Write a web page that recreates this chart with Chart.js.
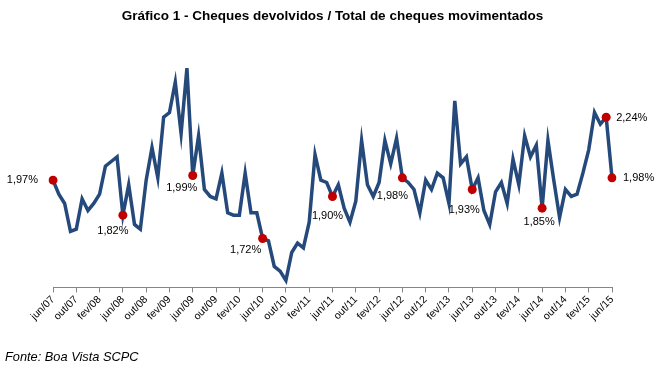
<!DOCTYPE html>
<html>
<head>
<meta charset="utf-8">
<script src="https://cdn.jsdelivr.net/npm/chart.js@4/dist/chart.umd.min.js"></script>
<style>
  body { margin: 0; background: #fff; }
  #wrap { position: relative; width: 661px; height: 369px; }
  #fonte { position: absolute; left: 5px; top: 349px; font: italic 12.8px "Liberation Sans", Arial, sans-serif; color: #000; }
</style>
</head>
<body>
<div id="wrap">
  <canvas id="myChart" width="661" height="369"></canvas>
  <div id="fonte">Fonte: Boa Vista SCPC</div>
</div>
<script>
'use strict'
// meses de jun/07 a jun/15
var mesesNomes = ['jan', 'fev', 'mar', 'abr', 'mai', 'jun', 'jul', 'ago', 'set', 'out', 'nov', 'dez'];
var meses = [];
for (let ano = 7; ano <= 15; ano++) {
    for (let m = 0; m < 12; m++) {
        if (ano == 7 && m < 5) continue;
        if (ano == 15 && m > 5) continue;
        meses.push(mesesNomes[m] + '/' + (ano < 10 ? '0' + ano : ano));
    }
}

// cheques devolvidos / total (%)
var valores = [
    1.97, 1.91, 1.87, 1.75, 1.76, 1.89, 1.84, 1.87, 1.91, 2.03, 2.05, 2.07,
    1.82, 1.95, 1.78, 1.76, 1.97, 2.11, 1.98, 2.24, 2.26, 2.39, 2.17, 2.45,
    1.99, 2.16, 1.93, 1.90, 1.89, 2.00, 1.83, 1.82, 1.82, 2.00, 1.83, 1.83,
    1.72, 1.71, 1.60, 1.58, 1.54, 1.66, 1.70, 1.68, 1.79, 2.08, 1.97, 1.96,
    1.90, 1.95, 1.85, 1.79, 1.88, 2.14, 1.95, 1.90, 1.96, 2.14, 2.04, 2.15,
    1.98, 1.96, 1.93, 1.83, 1.97, 1.93, 2.00, 1.98, 1.87, 2.31, 2.04, 2.07,
    1.93, 1.98, 1.84, 1.78, 1.92, 1.96, 1.87, 2.06, 1.95, 2.16, 2.07, 2.12,
    1.85, 2.14, 1.97, 1.81, 1.93, 1.90, 1.91, 2.00, 2.10, 2.26, 2.21, 2.24,
    1.98
];

// pontos destacados e seus rotulos
var destaques = [0, 12, 24, 36, 48, 60, 72, 84, 95, 96];
var rotulos = ['1,97%', '1,82%', '1,99%', '1,72%', '1,90%', '1,98%', '1,93%', '1,85%', '2,24%', '1,98%'];
// posicao do texto em relacao ao ponto [dx, dy, alinhamento]
var rotuloPos = [[-15, 0, 'right'], [-10, 16, 'center'], [-11, 12, 'center'], [-17, 12, 'center'], [-5, 19, 'center'],
    [-10, 18, 'center'], [-8, 20, 'center'], [-3, 14, 'center'], [10, 1, 'left'], [11, 0, 'left']];

var raios = valores.map(function (v, i) { return destaques.includes(i) ? 4.5 : 0; });

var rotulosPlugin = {
    id: 'rotulos',
    afterDatasetsDraw: function (chart) {
        var ctx = chart.ctx;
        var meta = chart.getDatasetMeta(0);
        ctx.save();
        ctx.font = '11px "Liberation Sans", Arial, sans-serif';
        ctx.fillStyle = '#000';
        ctx.textBaseline = 'middle';
        for (let i = 0; i < destaques.length; i++) {
            var pt = meta.data[destaques[i]];
            ctx.textAlign = rotuloPos[i][2];
            ctx.fillText(rotulos[i], pt.x + rotuloPos[i][0], pt.y + rotuloPos[i][1]);
        }
        ctx.restore();
    }
};

var ctx = document.getElementById('myChart').getContext('2d');

var chart = new Chart(ctx, {
    type: 'line',
    data: {
        labels: meses,
        datasets: [{
            data: valores,
            borderColor: '#24497a',
            borderWidth: 3.5,
            tension: 0,
            pointRadius: raios,
            pointHoverRadius: raios,
            pointBackgroundColor: '#c00000',
            pointBorderColor: '#c00000',
            pointBorderWidth: 0
        }]
    },
    options: {
        responsive: false,
        animation: false,
        layout: { padding: { left: 53, right: 49, top: 0, bottom: 45 } },
        plugins: {
            legend: { display: false },
            tooltip: { enabled: false },
            title: {
                display: true,
                text: 'Gráfico 1 - Cheques devolvidos / Total de cheques movimentados',
                font: { family: '"Liberation Sans", Arial', size: 13.5, weight: 'bold' },
                color: '#000',
                padding: { top: 8, bottom: 16 }
            }
        },
        scales: {
            x: {
                offset: false,
                grid: { drawOnChartArea: false, drawTicks: true, tickLength: 5, color: '#868686' },
                border: { display: true, color: '#868686' },
                ticks: {
                    autoSkip: false,
                    maxRotation: 45,
                    minRotation: 45,
                    padding: 1,
                    color: '#000',
                    font: { family: '"Liberation Sans", Arial', size: 10.5 },
                    callback: function (val, i) { return i % 4 == 0 ? meses[i] : null; }
                }
            },
            y: {
                display: false,
                min: 1.51,
                max: 2.57
            }
        }
    },
    plugins: [rotulosPlugin]
});
</script>
</body>
</html>
